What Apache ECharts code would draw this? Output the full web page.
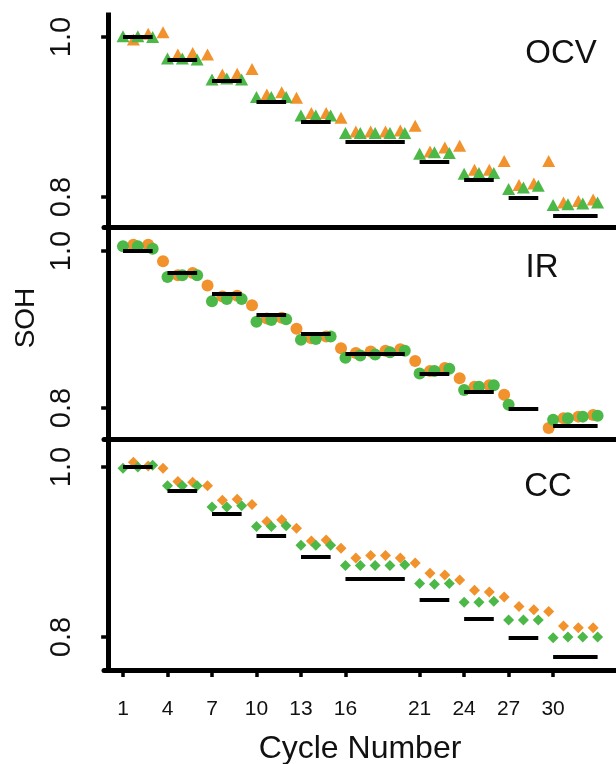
<!DOCTYPE html>
<html>
<head>
<meta charset="utf-8">
<script src="https://cdn.jsdelivr.net/npm/echarts@6/dist/echarts.min.js"></script>
<style>
  html, body { margin: 0; padding: 0; background: #fff; }
  #chart { width: 616px; height: 764px; }
</style>
</head>
<body>
<div id="chart"></div>
<script>
// Cycle numbers (every measured cycle)
const cycles = [1, 2, 3, 4, 5, 6, 7, 8, 9, 10, 11, 12, 13, 14, 15, 16, 17, 18, 19, 20,
                21, 22, 23, 24, 25, 26, 27, 28, 29, 30, 31, 32, 33];
// Tick labels on the cycle axis
const cycleTicks = [1, 4, 7, 10, 13, 16, 21, 24, 27, 30];
const sohTicks = [0.8, 1.0];

// Reference SOH: one plateau per block of cycles
const blockStart = [1, 4, 7, 10, 13, 16, 21, 24, 27, 30];
const blockEnd   = [3, 6, 9, 12, 15, 20, 23, 26, 29, 33];
const blockSOH   = [1.000, 0.972, 0.945, 0.919, 0.894, 0.869, 0.844, 0.821, 0.799, 0.777];

// OCV-based estimates
const ocvGreen = [1.001, 1.001, 1.000, 0.973, 0.973, 0.972, 0.947, 0.948, 0.947,
                  0.925, 0.925, 0.925, 0.902, 0.902, 0.902,
                  0.880, 0.880, 0.880, 0.880, 0.880, 0.854, 0.856, 0.855,
                  0.829, 0.830, 0.830, 0.810, 0.812, 0.814, 0.790, 0.791, 0.792, 0.793];
const ocvOrange = [0.997, 1.004, 1.006, 0.978, 0.980, 0.978, 0.953, 0.954, 0.960,
                   0.928, 0.931, 0.924, 0.905, 0.905, 0.899,
                   0.882, 0.882, 0.882, 0.883, 0.889, 0.857, 0.862, 0.864,
                   0.834, 0.834, 0.845, 0.815, 0.817, 0.845, 0.793, 0.795, 0.797];

// IR-based estimates (null = no estimate for that cycle)
const irGreen = [1.006, 1.006, 1.003, 0.967, 0.969, 0.969, 0.936, 0.939, 0.939,
                 0.910, 0.912, 0.913, 0.887, 0.888, 0.891,
                 0.864, 0.867, 0.868, 0.871, 0.873, 0.844, 0.847, 0.850,
                 0.823, 0.827, 0.829, 0.804, null, null, 0.785, 0.787, 0.789, 0.790];
const irOrange = [1.008, 1.008, 0.987, 0.969, 0.972, 0.956, 0.942, 0.943, 0.931,
                  0.914, 0.915, 0.901, 0.889, 0.891, 0.876,
                  0.870, 0.872, 0.873, 0.875, 0.860, 0.847, 0.851, 0.838,
                  0.827, 0.829, 0.817, null, null, 0.7745, 0.787, 0.789, 0.791];

// CC-based estimates
const ccGreen = [0.9985, 1.000, 1.002, 0.978, 0.978, 0.978, 0.953, 0.953, 0.9545,
                 0.930, 0.930, 0.931, 0.908, 0.908, 0.908,
                 0.884, 0.884, 0.884, 0.884, 0.885, 0.863, 0.862, 0.863,
                 0.841, 0.841, 0.842, 0.820, 0.820, 0.820, 0.799, 0.800, 0.800, 0.800];
const ccOrange = [1.0055, 1.001, 0.9985, 0.983, 0.982, 0.978, 0.961, 0.962, 0.956,
                  0.936, 0.938, 0.928, 0.913, 0.914, 0.9045,
                  0.893, 0.896, 0.896, 0.893, 0.887, 0.875, 0.873, 0.867,
                  0.855, 0.853, 0.847, 0.836, 0.832, 0.830, 0.813, 0.811, 0.811];

const panelNames = ['OCV', 'IR', 'CC'];

// Second estimate is drawn just after its cycle
const ORANGE_SHIFT = 0.7;
const GREEN = '#4CB848';
const ORANGE = '#F1922C';
const FONT = 'Liberation Sans, Arial, Helvetica, sans-serif';

const panels = [
  { green: ocvGreen, orange: ocvOrange, symbol: 'triangle', size: [13, 12],
    top: 15, height: 212, yMin: 0.7625, yMax: 1.0275 },
  { green: irGreen, orange: irOrange, symbol: 'circle', size: 12,
    top: 227, height: 212, yMin: 0.7605, yMax: 1.0306 },
  { green: ccGreen, orange: ccOrange, symbol: 'diamond', size: 11,
    top: 439, height: 231, yMin: 0.7612, yMax: 1.0329 }
];

function pairs(values, shift) {
  const out = [];
  values.forEach((v, i) => {
    if (v !== null) out.push([cycles[i] + shift, v]);
  });
  return out;
}

const grids = [], xAxes = [], yAxes = [], series = [];
panels.forEach((p, i) => {
  const last = i === panels.length - 1;
  grids.push({ left: 104, right: 0, top: p.top, height: p.height });
  xAxes.push({
    type: 'value', gridIndex: i, min: -0.28, max: 34.24,
    axisLine: { show: true, lineStyle: { color: '#000', width: 5 } },
    axisTick: { show: last, customValues: cycleTicks, length: 7,
                lineStyle: { color: '#000', width: 3.5 } },
    axisLabel: { show: last, customValues: cycleTicks, margin: 29,
                 fontSize: 21, color: '#111', fontFamily: FONT },
    splitLine: { show: false }
  });
  yAxes.push({
    type: 'value', gridIndex: i, min: p.yMin, max: p.yMax,
    axisLine: { show: true, lineStyle: { color: '#000', width: 5, cap: 'square' } },
    axisTick: { show: true, customValues: sohTicks, length: 7,
                lineStyle: { color: '#000', width: 3.5 } },
    axisLabel: { show: true, customValues: sohTicks, rotate: 90, margin: 28,
                 fontSize: 29, color: '#111', fontFamily: FONT,
                 formatter: v => v.toFixed(1) },
    splitLine: { show: false }
  });
  series.push({
    type: 'scatter', xAxisIndex: i, yAxisIndex: i, z: 2,
    symbol: p.symbol, symbolSize: p.size,
    itemStyle: { color: ORANGE, opacity: 1 },
    data: pairs(p.orange, ORANGE_SHIFT)
  });
  series.push({
    type: 'scatter', xAxisIndex: i, yAxisIndex: i, z: 3,
    symbol: p.symbol, symbolSize: p.size,
    itemStyle: { color: GREEN, opacity: 1 },
    data: pairs(p.green, 0)
  });
  series.push({
    type: 'lines', coordinateSystem: 'cartesian2d', xAxisIndex: i, yAxisIndex: i, z: 4,
    lineStyle: { color: '#000', width: 4, opacity: 1, curveness: 0 },
    data: blockSOH.map((s, k) => ({ coords: [[blockStart[k], s], [blockEnd[k], s]] }))
  });
});

const labelPos = [[561, 54], [542, 268], [548, 487]];
const graphic = panelNames.map((name, i) => ({
  type: 'text', x: labelPos[i][0], y: labelPos[i][1],
  style: { text: name, fontSize: 33, fontFamily: FONT, fill: '#111',
           textAlign: 'center', textVerticalAlign: 'middle' }
}));
graphic.push({
  type: 'text', x: 26, y: 318, rotation: Math.PI / 2,
  style: { text: 'SOH', fontSize: 28, fontFamily: FONT, fill: '#111',
           textAlign: 'center', textVerticalAlign: 'middle' }
});
graphic.push({
  type: 'text', x: 360, y: 749,
  style: { text: 'Cycle Number', fontSize: 32, fontFamily: FONT, fill: '#111',
           textAlign: 'center', textVerticalAlign: 'middle' }
});

const chart = echarts.init(document.getElementById('chart'), null, { renderer: 'canvas' });
chart.setOption({
  animation: false,
  backgroundColor: '#fff',
  grid: grids,
  xAxis: xAxes,
  yAxis: yAxes,
  series: series,
  graphic: graphic
});
</script>
</body>
</html>
